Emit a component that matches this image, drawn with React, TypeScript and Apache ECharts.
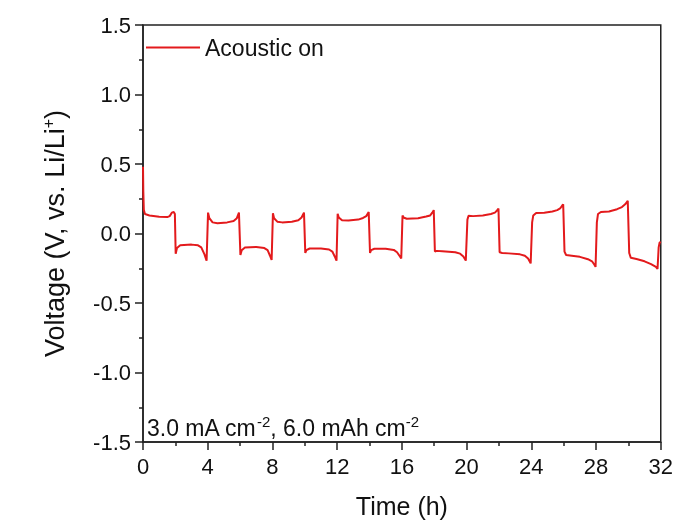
import React, { useEffect, useRef } from "react";
import * as echarts from "echarts";

// Time (h) tick labels
const timeTicks = [0, 4, 8, 12, 16, 20, 24, 28, 32];
const voltageTicks = [-1.5, -1.0, -0.5, 0.0, 0.5, 1.0, 1.5];

const seriesName = "Acoustic on";

// Voltage profile [time (h), voltage (V)]
const acousticOn: [number, number][] = [
  [0.0, 0.48], [0.02, 0.3], [0.05, 0.17], [0.12, 0.14], [0.4, 0.13], [1.0, 0.12], [1.5, 0.118],
  [1.65, 0.125], [1.78, 0.15], [1.9, 0.155], [1.97, 0.14],
  [2.02, -0.145], [2.1, -0.105], [2.3, -0.085], [3.0, -0.08], [3.4, -0.085], [3.6, -0.1], [3.8, -0.15], [3.93, -0.195],
  [4.02, 0.15], [4.1, 0.11], [4.3, 0.08], [4.6, 0.074], [5.2, 0.08], [5.6, 0.09], [5.8, 0.11], [5.93, 0.15],
  [6.02, -0.155], [6.1, -0.12], [6.3, -0.1], [7.0, -0.097], [7.5, -0.105], [7.7, -0.12], [7.85, -0.16], [7.95, -0.19],
  [8.03, 0.145], [8.1, 0.11], [8.3, 0.085], [8.6, 0.08], [9.2, 0.085], [9.6, 0.095], [9.8, 0.115], [9.95, 0.15],
  [10.03, -0.14], [10.1, -0.12], [10.3, -0.108], [11.0, -0.108], [11.5, -0.115], [11.7, -0.13], [11.85, -0.165], [11.96, -0.195],
  [12.03, 0.142], [12.1, 0.115], [12.3, 0.095], [12.7, 0.093], [13.3, 0.1], [13.6, 0.112], [13.8, 0.125], [13.95, 0.155],
  [14.03, -0.14], [14.1, -0.12], [14.3, -0.11], [15.0, -0.11], [15.5, -0.118], [15.7, -0.135], [15.85, -0.16], [15.96, -0.18],
  [16.04, 0.13], [16.1, 0.115], [16.3, 0.106], [17.0, 0.11], [17.5, 0.122], [17.75, 0.13], [17.88, 0.15], [17.97, 0.168],
  [18.04, -0.13], [18.15, -0.125], [18.5, -0.127], [19.3, -0.135], [19.6, -0.145], [19.8, -0.165], [19.95, -0.195],
  [20.05, 0.1], [20.12, 0.128], [20.4, 0.125], [21.0, 0.13], [21.5, 0.14], [21.75, 0.15], [21.88, 0.165], [21.97, 0.18],
  [22.04, -0.135], [22.2, -0.14], [22.6, -0.143], [23.3, -0.15], [23.6, -0.16], [23.8, -0.18], [23.96, -0.215],
  [24.05, 0.08], [24.12, 0.13], [24.3, 0.148], [24.8, 0.15], [25.3, 0.158], [25.6, 0.168], [25.78, 0.18], [25.9, 0.2], [25.97, 0.21],
  [26.05, -0.13], [26.15, -0.155], [26.5, -0.16], [27.0, -0.168], [27.5, -0.185], [27.75, -0.2], [27.9, -0.225], [27.97, -0.24],
  [28.05, 0.08], [28.12, 0.14], [28.3, 0.155], [28.8, 0.158], [29.3, 0.175], [29.6, 0.19], [29.8, 0.21], [29.96, 0.235],
  [30.05, -0.14], [30.15, -0.175], [30.5, -0.183], [31.0, -0.2], [31.4, -0.22], [31.7, -0.24], [31.8, -0.255],
  [31.87, -0.1], [31.93, -0.065], [32.0, -0.06],
];

export default function App() {
  const ref = useRef<HTMLDivElement>(null);
  useEffect(() => {
    if (!ref.current) return;
    const chart = echarts.init(ref.current, undefined, { renderer: "svg" });
    const font = "'Liberation Sans', Arial, sans-serif";
    const ink = "#111";
    const axisColor = "#222";
    chart.setOption({
      animation: false,
      textStyle: { fontFamily: font },
      grid: {
        left: 143, right: 15, top: 25, bottom: 90,
        show: true, borderColor: axisColor, borderWidth: 1.5, backgroundColor: "transparent",
      },
      legend: {
        left: 141, top: 31, padding: [5, 5, 5, 5], itemWidth: 54, itemHeight: 14, itemGap: 10,
        icon: "path://M0,0 L54,0 L54,2 L0,2 Z",
        data: [{ name: seriesName, itemStyle: { color: "#e31a1c" } }],
        textStyle: { fontSize: 23, color: ink, fontFamily: font },
      },
      xAxis: {
        type: "value", min: timeTicks[0], max: timeTicks[timeTicks.length - 1], interval: 4,
        name: "Time (h)", nameLocation: "middle", nameGap: 51,
        nameTextStyle: { fontSize: 25, color: ink, fontFamily: font },
        axisLine: { show: true, onZero: false, lineStyle: { color: axisColor, width: 1.5 } },
        axisTick: { show: true, inside: false, length: 8, lineStyle: { color: axisColor, width: 1.5 } },
        minorTick: { show: true, splitNumber: 2, length: 4, lineStyle: { color: axisColor, width: 1.5 } },
        splitLine: { show: false },
        axisLabel: { fontSize: 22, color: ink, margin: 13, fontFamily: font },
      },
      yAxis: {
        type: "value", min: voltageTicks[0], max: voltageTicks[voltageTicks.length - 1], interval: 0.5,
        name: "Voltage (V, vs. Li/Li{sup|+})", nameLocation: "middle", nameGap: 73, nameRotate: 90,
        nameTextStyle: {
          fontSize: 27, color: ink, fontFamily: font,
          rich: { sup: { fontSize: 16, verticalAlign: "top", padding: [0, 0, 14, 0], color: ink, fontFamily: font } },
        },
        axisLine: { show: true, onZero: false, lineStyle: { color: axisColor, width: 1.5 } },
        axisTick: { show: true, inside: false, length: 8, lineStyle: { color: axisColor, width: 1.5 } },
        minorTick: { show: true, splitNumber: 2, length: 4, lineStyle: { color: axisColor, width: 1.5 } },
        splitLine: { show: false },
        axisLabel: { fontSize: 22, color: ink, margin: 12, fontFamily: font, formatter: (v: number) => v.toFixed(1) },
      },
      graphic: [
        {
          type: "text", left: 147, top: 414,
          style: {
            text: "3.0 mA cm{sup|-2}, 6.0 mAh cm{sup|-2}",
            fontSize: 23, fill: ink, fontFamily: font,
            rich: { sup: { fontSize: 15, verticalAlign: "top", padding: [0, 0, 12, 0], fill: ink, fontFamily: font } },
          },
        },
      ],
      series: [
        {
          name: seriesName, type: "line", data: acousticOn, showSymbol: false, symbol: "none",
          lineStyle: { color: "#e31a1c", width: 2 }, itemStyle: { color: "#e31a1c" },
          smooth: false,
        },
      ],
    });
    return () => chart.dispose();
  }, []);
  return <div ref={ref} style={{ position: "fixed", left: 0, top: 0, width: 676, height: 532 }} />;
}
